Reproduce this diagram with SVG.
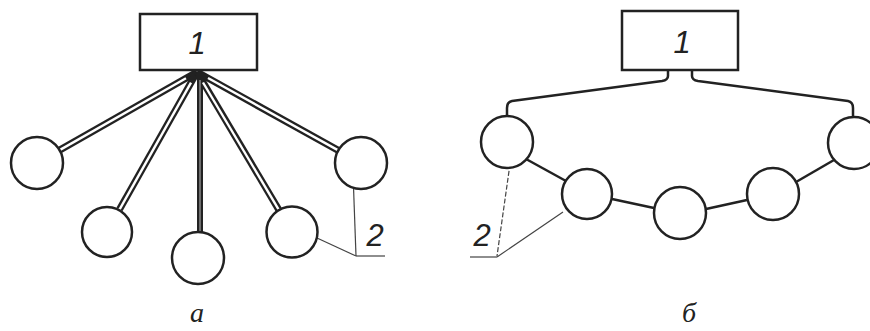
<svg xmlns="http://www.w3.org/2000/svg" width="870" height="331" viewBox="0 0 870 331">
<style>
.box{fill:#fff;stroke:#222;stroke-width:2.5}
.node{fill:#fff;stroke:#222;stroke-width:2.5}
.dbl-o{stroke:#222;stroke-width:7;fill:none}
.dbl-i{stroke:#fff;stroke-width:2.4;fill:none}
.ln{stroke:#222;stroke-width:2.5;fill:none;stroke-linejoin:round}
.lead{stroke:#444;stroke-width:1.2;fill:none}
.num{font-family:"Liberation Sans",Arial,sans-serif;font-style:italic;font-size:31px;fill:#222;text-anchor:middle}
.cap{font-family:"Liberation Serif","Times New Roman",serif;font-style:italic;font-size:28px;fill:#222;text-anchor:middle}
</style>
<rect width="870" height="331" fill="#fff"/>
<g id="connectors">
  <g id="star-links">
    <line class="dbl-o" x1="197" y1="72" x2="59.6" y2="150.1"/>
    <line class="dbl-o" x1="197" y1="72" x2="119.6" y2="209.3"/>
    <line class="dbl-o" x1="197" y1="72" x2="278.7" y2="209.6"/>
    <line class="dbl-o" x1="197" y1="72" x2="338.3" y2="150.4"/>
    <line x1="200" y1="72" x2="200" y2="232" stroke="#222" stroke-width="6"/>
    <line class="dbl-i" x1="186" y1="78.2" x2="59.6" y2="150.1"/>
    <line class="dbl-i" x1="191" y1="82.7" x2="119.6" y2="209.3"/>
    <line class="dbl-i" x1="203" y1="82.5" x2="278.7" y2="209.6"/>
    <line class="dbl-i" x1="208" y1="78" x2="338.3" y2="150.4"/>
    <line x1="200" y1="80" x2="200" y2="232" stroke="#888" stroke-width="1.5"/>
  </g>
  <g id="ring-links">
    <path class="ln" d="M668,70 L668,76 Q668,80 662,81 L512,101 Q507,102 507,108 L507,116"/>
    <path class="ln" d="M692,70 L692,76 Q692,80 698,81 L848,101 Q853,102 853,108 L853,117"/>
    <line class="ln" x1="526" y1="159" x2="566" y2="181"/>
    <line class="ln" x1="612" y1="199" x2="654" y2="208"/>
    <line class="ln" x1="706" y1="209" x2="747" y2="200"/>
    <line class="ln" x1="796" y1="182" x2="834" y2="160"/>
  </g>
  <g id="leaders">
    <line class="lead" x1="353" y1="173" x2="356" y2="256"/>
    <line class="lead" x1="356" y1="256" x2="385" y2="256"/>
    <line class="lead" x1="317" y1="238" x2="356" y2="256"/>
    <line x1="302" y1="236" x2="310" y2="236" stroke="#333" stroke-width="1.5"/>
    <line x1="353" y1="173" x2="353" y2="178" stroke="#333" stroke-width="1.5"/>
    <line class="lead" x1="511" y1="157" x2="497" y2="256" stroke-dasharray="5,2"/>
    <line class="lead" x1="470" y1="257" x2="497" y2="257"/>
    <line class="lead" x1="563" y1="212" x2="497" y2="257"/>
    <line x1="576" y1="201" x2="579" y2="199" stroke="#333" stroke-width="1.5"/>
  </g>
</g>
<g id="box-a">
  <rect class="box" x="140" y="14" width="117" height="56"/>
  <text class="num" x="197" y="54">1</text>
</g>
<g id="a-node1"><circle class="node" cx="37" cy="163" r="26"/></g>
<g id="a-node2"><circle class="node" cx="107" cy="232" r="25"/></g>
<g id="a-node3"><circle class="node" cx="198" cy="258" r="26"/></g>
<g id="a-node4"><circle class="node" cx="292" cy="232" r="25.5"/></g>
<g id="a-node5"><circle class="node" cx="361" cy="163" r="26"/></g>
<g id="box-b">
  <rect class="box" x="622" y="11" width="116" height="59"/>
  <text class="num" x="682" y="53">1</text>
</g>
<g id="b-node1"><circle class="node" cx="507" cy="142" r="26"/></g>
<g id="b-node2"><circle class="node" cx="587" cy="194" r="25"/></g>
<g id="b-node3"><circle class="node" cx="680" cy="213" r="26"/></g>
<g id="b-node4"><circle class="node" cx="773" cy="194" r="26"/></g>
<g id="b-node5"><circle class="node" cx="854" cy="143" r="26"/></g>
<g id="labels">
  <text class="num" x="375" y="246">2</text>
  <text class="num" x="482" y="246">2</text>
  <text class="cap" x="197" y="322">а</text>
  <text class="cap" x="689" y="322">б</text>
</g>
</svg>
